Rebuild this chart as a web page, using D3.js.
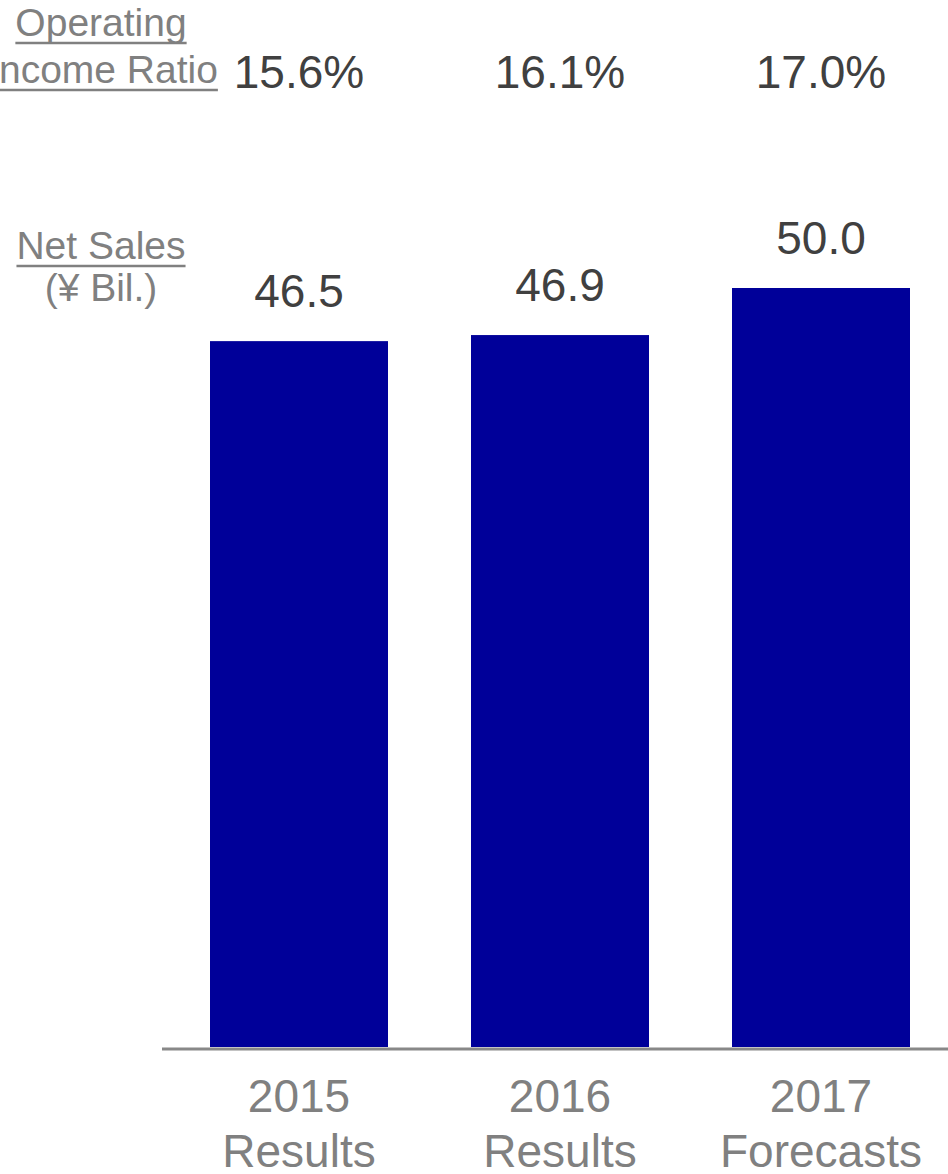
<!DOCTYPE html>
<html>
<head>
<meta charset="utf-8">
<script src="https://cdn.jsdelivr.net/npm/d3@7/dist/d3.min.js"></script>
<style>
  html, body { margin: 0; padding: 0; background: #fff; }
  svg { display: block; }
  text { font-family: "Liberation Sans", Arial, sans-serif; }
</style>
</head>
<body>
<svg id="chart" width="948" height="1174"></svg>
<script>
const years = ["2015", "2016", "2017"];
const kinds = ["Results", "Results", "Forecasts"];
const netSales = [46.5, 46.9, 50.0];
const opRatio = ["15.6%", "16.1%", "17.0%"];
const salesLabels = ["46.5", "46.9", "50.0"];

const svg = d3.select("#chart");
const W = 948, H = 1174;

const x = d3.scaleBand()
  .domain(years)
  .range([168.5, 951.5])
  .paddingInner(0.318)
  .paddingOuter(0.159);

const y = d3.scaleLinear().domain([0, 50]).range([1047, 288]);

// bars
svg.selectAll("rect.bar").data(years).join("rect")
  .attr("class", "bar")
  .attr("x", d => x(d))
  .attr("width", x.bandwidth())
  .attr("y", (d, i) => y(netSales[i]))
  .attr("height", (d, i) => y(0) - y(netSales[i]))
  .attr("fill", "#000099");

// baseline axis line
svg.append("line")
  .attr("x1", 162).attr("x2", W)
  .attr("y1", 1049).attr("y2", 1049)
  .attr("stroke", "#888888").attr("stroke-width", 3);

// value labels
svg.selectAll("text.val").data(years).join("text")
  .attr("class", "val")
  .attr("x", d => x(d) + x.bandwidth() / 2)
  .attr("y", (d, i) => y(netSales[i]) - 34)
  .attr("text-anchor", "middle")
  .attr("font-size", 46)
  .attr("fill", "#404040")
  .text((d, i) => salesLabels[i]);

// operating income ratio row
svg.selectAll("text.ratio").data(years).join("text")
  .attr("class", "ratio")
  .attr("x", d => x(d) + x.bandwidth() / 2)
  .attr("y", 88)
  .attr("text-anchor", "middle")
  .attr("font-size", 46)
  .attr("fill", "#404040")
  .text((d, i) => opRatio[i]);

// x-axis category labels
const cat = svg.selectAll("g.cat").data(years).join("g").attr("class", "cat");
cat.append("text")
  .attr("x", d => x(d) + x.bandwidth() / 2)
  .attr("y", 1112)
  .attr("text-anchor", "middle")
  .attr("font-size", 46)
  .attr("fill", "#808080")
  .text(d => d);
cat.append("text")
  .attr("x", d => x(d) + x.bandwidth() / 2)
  .attr("y", 1167)
  .attr("text-anchor", "middle")
  .attr("font-size", 46)
  .attr("fill", "#808080")
  .text((d, i) => kinds[i]);

// left-side row labels
function label(txt, cx, by, size, underline) {
  const t = svg.append("text")
    .attr("x", cx).attr("y", by)
    .attr("text-anchor", "middle")
    .attr("font-size", size)
    .attr("fill", "#808080")
    .text(txt);
  if (underline) {
    const w = t.node().getComputedTextLength();
    svg.append("line")
      .attr("x1", cx - w / 2).attr("x2", cx + w / 2)
      .attr("y1", by + 7).attr("y2", by + 7)
      .attr("stroke", "#808080").attr("stroke-width", 2.5);
  }
}
label("Operating", 101, 36, 39, true);
label("Income Ratio", 103, 83, 39, true);
label("Net Sales", 101, 259, 39, true);
label("(¥ Bil.)", 101, 301, 39, false);
</script>
</body>
</html>
